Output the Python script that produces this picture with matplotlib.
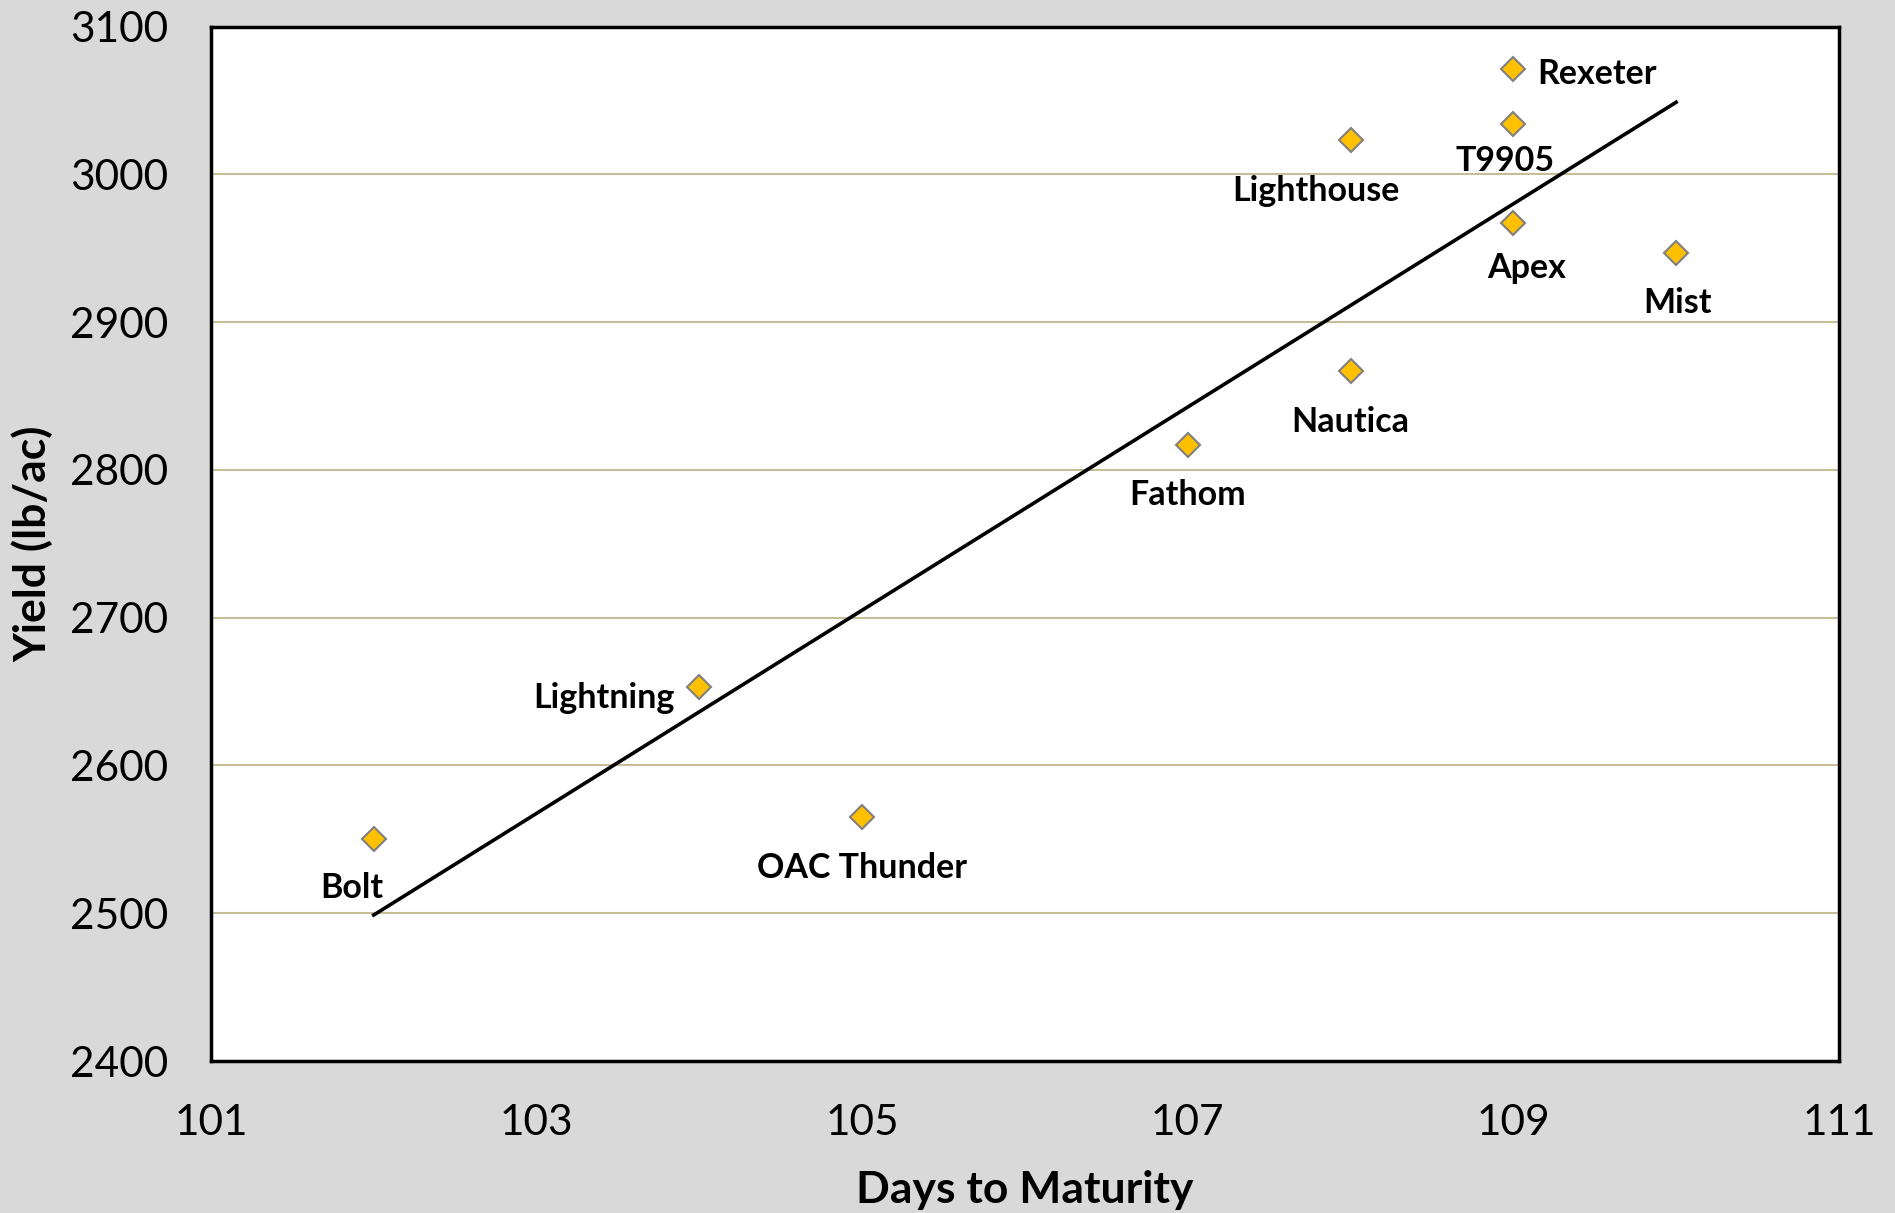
import numpy as np
import matplotlib
matplotlib.use("Agg")
import matplotlib.pyplot as plt

plt.rcParams['font.family'] = ['Lato', 'DejaVu Sans']

# Data
varieties = ['Bolt', 'Lightning', 'OAC Thunder', 'Fathom', 'Nautica',
             'Lighthouse', 'Rexeter', 'T9905', 'Apex', 'Mist']
days = [102, 104, 105, 107, 108, 108, 109, 109, 109, 110]
yields = [2550, 2653, 2565, 2817, 2867, 3023, 3071, 3034, 2967, 2947]

x_ticks = [101, 103, 105, 107, 109, 111]
y_ticks = [2400, 2500, 2600, 2700, 2800, 2900, 3000, 3100]

# Label placement (offset in points, alignment)
label_pos = {
    'Bolt': (-16, -35, 'center'),
    'Lightning': (-18, -7.5, 'right'),
    'OAC Thunder': (0, -36.5, 'center'),
    'Fathom': (0, -36.5, 'center'),
    'Nautica': (0, -36.5, 'center'),
    'Lighthouse': (-25, -36.5, 'center'),
    'Rexeter': (17, -3, 'left'),
    'T9905': (-6, -26.5, 'center'),
    'Apex': (9.6, -32.5, 'center'),
    'Mist': (1, -36.5, 'center'),
}

fig = plt.figure(figsize=(18.95, 12.13), dpi=100, facecolor='#d9d9d9')
ax = fig.add_axes([0.1113, 0.1253, 0.8591, 0.8528])
ax.set_facecolor('white')

# Trend line (linear fit)
slope, intercept = np.polyfit(days, yields, 1)
tx = np.array([min(days), max(days)])
ax.plot(tx, slope * tx + intercept, color='black', lw=2.6, zorder=2)

ax.plot(days, yields, linestyle='none', marker='D', markersize=12.5,
        markerfacecolor='#ffc000', markeredgecolor='#808080',
        markeredgewidth=1.5, zorder=3)

for name, x, y in zip(varieties, days, yields):
    dx, dy, ha = label_pos[name]
    ax.annotate(name, (x, y), xytext=(dx, dy), textcoords='offset points',
                ha=ha, va='center', fontsize=24.5, fontweight='bold')

ax.set_xlim(101, 111)
ax.set_ylim(2400, 3100)
ax.set_xticks(x_ticks)
ax.set_yticks(y_ticks)
ax.tick_params(length=0, labelsize=30.5, pad=31)
ax.yaxis.grid(True, color='#c4bd97', lw=1.5)
ax.set_axisbelow(True)

for s in ax.spines.values():
    s.set_color('black')
    s.set_linewidth(2.5)

ax.set_xlabel('Days to Maturity', fontsize=32, fontweight='bold', labelpad=20)
ax.set_ylabel('Yield (lb/ac)', fontsize=32, fontweight='bold', labelpad=12)

fig.savefig('out.png', dpi=100, facecolor=fig.get_facecolor())
